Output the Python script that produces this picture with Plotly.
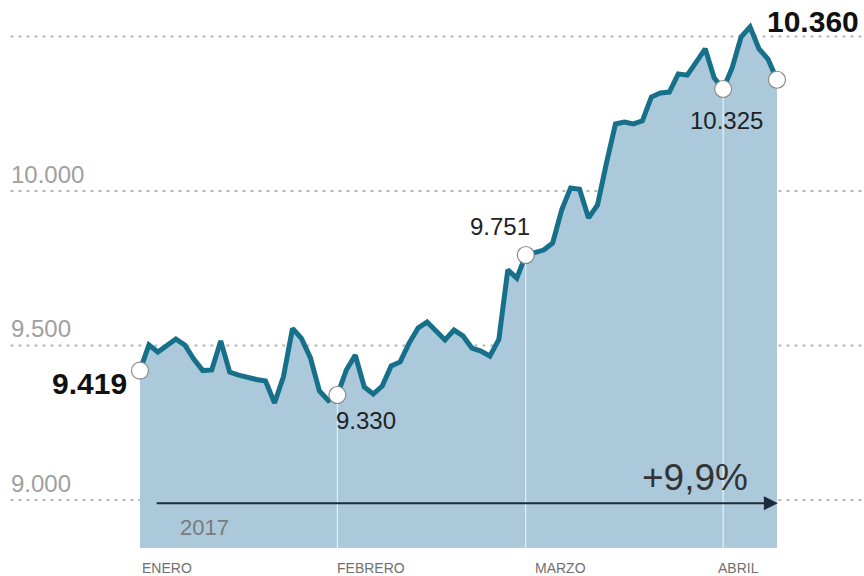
import plotly.graph_objects as go
import pandas as pd

# 72 sessions of the chart (2017)
dates = [d.strftime("%Y-%m-%d") for d in pd.bdate_range("2017-01-02", periods=72)]

values = [
    9419, 9502, 9479, 9502, 9521, 9502, 9456, 9419, 9421, 9515,
    9414, 9404, 9396, 9390, 9385, 9314, 9400, 9555, 9523, 9460,
    9353, 9322,
    9340, 9421, 9469, 9366, 9343, 9369, 9434, 9447, 9508, 9557,
    9576, 9544, 9518, 9550, 9531, 9492, 9482, 9466, 9520, 9745,
    9718, 9793,
    9799, 9809, 9832, 9938, 10010, 10006, 9913, 9955, 10091, 10217,
    10223, 10217, 10227, 10304, 10317, 10320, 10379, 10375, 10417, 10460,
    10366, 10330,
    10398, 10498, 10531, 10460, 10427, 10360,
]

month_labels = ["ENERO", "FEBRERO", "MARZO", "ABRIL"]
month_start_idx = [0, 22, 43, 65]
month_label_shift = [0, -2, 7, -7]
month_line_idx = [22, 43, 65]
marked_idx = [0, 22, 43, 65, 71]
marked_text = ["9.419", "9.330", "9.751", "10.325", "10.360"]
y_ticks = [9000, 9500, 10000, 10500]
y_tick_text = ["9.000", "9.500", "10.000", ""]
change_text = "+9,9%"
year_text = "2017"

BASE = 8845
x = list(range(len(values)))

fig = go.Figure()

# area fill
fig.add_trace(go.Scatter(x=x, y=[BASE] * len(x), mode="lines",
                         line=dict(width=0, color="rgba(0,0,0,0)"),
                         hoverinfo="skip", showlegend=False))
fig.add_trace(go.Scatter(x=x, y=values, mode="lines", fill="tonexty",
                         fillcolor="#abc9db", line=dict(width=0),
                         hoverinfo="skip", showlegend=False))

# white month separators inside the area
for i in month_line_idx:
    fig.add_trace(go.Scatter(x=[i, i], y=[BASE, values[i]], mode="lines",
                             line=dict(color="rgba(255,255,255,0.85)", width=1),
                             hoverinfo="skip", showlegend=False))

# main line
fig.add_trace(go.Scatter(x=x, y=values, mode="lines", text=dates,
                         line=dict(color="#17708a", width=5),
                         showlegend=False))

# markers
fig.add_trace(go.Scatter(x=marked_idx, y=[values[i] for i in marked_idx],
                         mode="markers",
                         marker=dict(size=17, color="white",
                                     line=dict(color="#8a8a8a", width=1.2)),
                         showlegend=False))

# dotted gridlines
for v in y_ticks:
    fig.add_shape(type="line", xref="paper", yref="y", x0=0.012, x1=1,
                  y0=v, y1=v, layer="below",
                  line=dict(color="#b8b8b8", width=2, dash="3px,5px"))

annotations = []
for v, t in zip(y_ticks, y_tick_text):
    if t:
        annotations.append(dict(xref="paper", yref="y", x=0.01, y=v, text=t,
                                showarrow=False, xanchor="left", yanchor="middle",
                                yshift=17,
                                font=dict(family="Liberation Sans", size=24,
                                          color="#a0a0a0")))

for lab, i, sh in zip(month_labels, month_start_idx, month_label_shift):
    annotations.append(dict(xref="x", yref="paper", x=i, y=0, text=lab,
                            showarrow=False, xanchor="left", yanchor="middle",
                            yshift=-20, xshift=sh,
                            font=dict(family="Liberation Sans", size=14,
                                      color="#707070")))

# value labels
lab_font_bold = dict(family="Liberation Sans", size=30, color="#111111")
lab_font = dict(family="Liberation Sans", size=24, color="#222222")
annotations += [
    dict(x=marked_idx[0], y=values[marked_idx[0]], text="<b>%s</b>" % marked_text[0],
         showarrow=False, xanchor="right", yanchor="middle",
         xshift=-11, yshift=-13, font=lab_font_bold),
    dict(x=marked_idx[1], y=values[marked_idx[1]], text=marked_text[1],
         showarrow=False, xanchor="left", yanchor="middle",
         xshift=-3, yshift=-25, font=lab_font),
    dict(x=marked_idx[2], y=values[marked_idx[2]], text=marked_text[2],
         showarrow=False, xanchor="center", yanchor="middle",
         xshift=-26, yshift=28, font=lab_font),
    dict(x=marked_idx[3], y=values[marked_idx[3]], text=marked_text[3],
         showarrow=False, xanchor="center", yanchor="middle",
         xshift=3, yshift=-31, font=lab_font),
    dict(x=marked_idx[4], y=values[marked_idx[4]], text="<b>%s</b>" % marked_text[4],
         showarrow=False, xanchor="center", yanchor="middle",
         xshift=36, yshift=58, font=lab_font_bold),
]

# growth arrow
annotations.append(dict(x=x[-1] + 0.1, y=8990, ax=1.7, ay=8990,
                        xref="x", yref="y", axref="x", ayref="y",
                        text="", showarrow=True, arrowhead=2, arrowsize=1.4,
                        arrowwidth=2, arrowcolor="#1d2b38"))
annotations.append(dict(x=x[-1] - 3.0, y=9072, text=change_text, showarrow=False,
                        xanchor="right", yanchor="middle",
                        font=dict(family="Liberation Sans", size=37, color="#333333")))
annotations.append(dict(x=4.2, y=8912, text=year_text, showarrow=False,
                        xanchor="left", yanchor="middle",
                        font=dict(family="Liberation Sans", size=22, color="#7a7a7a")))

fig.update_layout(
    width=864, height=576,
    margin=dict(l=0, r=0, t=0, b=28),
    paper_bgcolor="white", plot_bgcolor="white",
    xaxis=dict(range=[-15.6, 80.7], visible=False, fixedrange=True),
    yaxis=dict(range=[BASE, 10618], visible=False, fixedrange=True),
    annotations=annotations,
    showlegend=False,
)

fig.write_html("out.html")
